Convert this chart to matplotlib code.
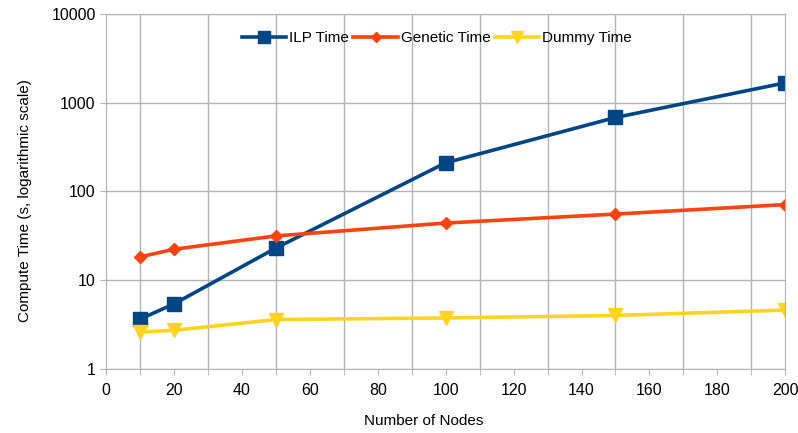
import matplotlib
matplotlib.use("Agg")
from matplotlib import pyplot as plt
from matplotlib.ticker import FixedLocator, NullLocator

nodes = [10, 20, 50, 100, 150, 200]
ilp_time = [3.65, 5.4, 23, 210, 680, 1670]
genetic_time = [18.3, 22.3, 31.5, 44, 55.5, 71]
dummy_time = [2.6, 2.72, 3.6, 3.75, 4.0, 4.6]

plt.rcParams['font.family'] = ['Liberation Sans', 'DejaVu Sans']

fig = plt.figure(figsize=(7.98, 4.33), dpi=100)
ax = fig.add_axes([0.133, 0.148, 0.851, 0.82])

ax.plot(nodes, ilp_time, color='#004586', lw=2.6, marker='s', ms=10, label='ILP Time')
ax.plot(nodes, genetic_time, color='#ff420e', lw=2.6, marker='D', ms=6, label='Genetic Time')
ax.plot(nodes, dummy_time, color='#ffd320', lw=2.6, marker='v', ms=10, label='Dummy Time')

ax.set_yscale('log')
ax.set_ylim(1, 10000)
ax.set_xlim(0, 200)
ax.yaxis.set_major_locator(FixedLocator([1, 10, 100, 1000, 10000]))
ax.yaxis.set_minor_locator(NullLocator())
ax.set_yticklabels(['1', '10', '100', '1000', '10000'])
ax.set_xticks(range(0, 201, 20))
ax.set_xticks(range(10, 200, 20), minor=True)

# only the odd tens get a vertical line, as in the original
ax.grid(True, axis='y', which='major', color='#b3b3b3', lw=1)
ax.grid(True, axis='x', which='minor', color='#b3b3b3', lw=1)
ax.set_axisbelow(True)
for s in ax.spines.values():
    s.set_color('#b3b3b3')
ax.tick_params(which='both', color='#b3b3b3', length=4, labelsize=11.5, labelcolor='#000000')
ax.tick_params(axis='x', pad=6)

ax.set_xlabel('Number of Nodes', fontsize=11, labelpad=12)
ax.set_ylabel('Compute Time (s, logarithmic scale)', fontsize=11, labelpad=14)
ax.xaxis.label.set_x(0.468)
ax.yaxis.label.set_y(0.473)

ax.legend(loc='upper center', bbox_to_anchor=(0.487, 0.99), ncol=3, frameon=False,
          fontsize=11, handlelength=2.9, handletextpad=0.2, columnspacing=0.3,
          markerscale=0.8)

fig.savefig('out.png', dpi=100)
